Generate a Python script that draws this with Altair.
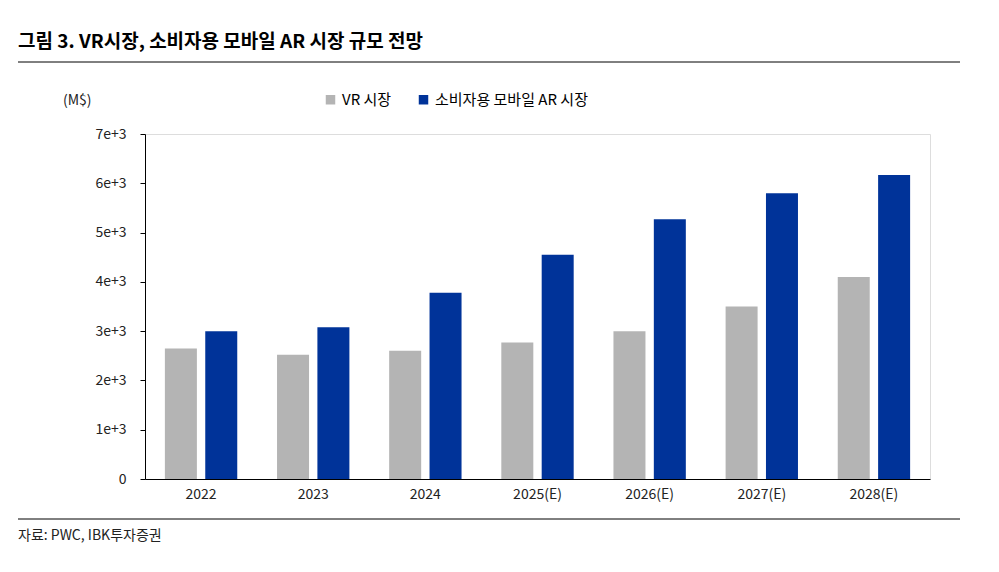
import altair as alt
import pandas as pd

years = ['2022', '2023', '2024', '2025(E)', '2026(E)', '2027(E)', '2028(E)']
vr = [2650, 2520, 2600, 2770, 3000, 3500, 4100]
ar = [3000, 3080, 3780, 4550, 5270, 5800, 6170]
series = ['VR 시장', '소비자용 모바일 AR 시장']

rows = []
for y, a, b in zip(years, vr, ar):
    rows.append({'year': y, 'series': series[0], 'value': a})
    rows.append({'year': y, 'series': series[1], 'value': b})
df = pd.DataFrame(rows)

FONT = 'Noto Sans CJK KR'

bars = alt.Chart(df).mark_bar(size=32).encode(
    x=alt.X('year:N', sort=years, title=None,
            scale=alt.Scale(paddingInner=0.28, paddingOuter=0.14),
            axis=alt.Axis(labelAngle=0, domainColor='black', ticks=False,
                          labelFontSize=14, labelColor='#222', labelPadding=8)),
    xOffset=alt.XOffset('series:N', sort=series),
    y=alt.Y('value:Q', title=None,
            scale=alt.Scale(domain=[0, 7000]),
            axis=alt.Axis(values=list(range(0, 7001, 1000)), format=',', grid=False,
                          domainColor='black', tickColor='black', tickSize=5,
                          labelFontSize=14, labelColor='#222', labelPadding=14)),
    color=alt.Color('series:N', sort=series,
                    scale=alt.Scale(domain=series, range=['#b4b4b4', '#003399']),
                    legend=alt.Legend(title=None, orient='none', direction='horizontal',
                                      legendX=178, legendY=-42, symbolType='square',
                                      symbolSize=90, labelFontSize=15, columnPadding=24,
                                      labelFont=FONT, symbolStrokeWidth=0)),
)

title = alt.Chart(pd.DataFrame({'t': ['그림 3. VR시장, 소비자용 모바일 AR 시장 규모 전망']})).mark_text(
    align='left', baseline='middle', fontSize=19, fontWeight='bold', font=FONT, color='black'
).encode(text='t:N', x=alt.value(-127), y=alt.value(-92))

unit = alt.Chart(pd.DataFrame({'t': ['(M$)']})).mark_text(
    align='left', baseline='middle', fontSize=14, font=FONT, color='#222'
).encode(text='t:N', x=alt.value(-82), y=alt.value(-33))

source = alt.Chart(pd.DataFrame({'t': ['자료: PWC, IBK투자증권']})).mark_text(
    align='left', baseline='middle', fontSize=14, font=FONT, color='#222'
).encode(text='t:N', x=alt.value(-127), y=alt.value(402))

rule_top = alt.Chart(pd.DataFrame({'a': [0]})).mark_rule(color='black', strokeWidth=1).encode(
    x=alt.value(-127), x2=alt.value(815), y=alt.value(-72))
rule_bot = alt.Chart(pd.DataFrame({'a': [0]})).mark_rule(color='black', strokeWidth=1).encode(
    x=alt.value(-127), x2=alt.value(815), y=alt.value(385))

chart = (bars + title + unit + source + rule_top + rule_bot).properties(
    width=785, height=345, autosize='none',
    padding={'left': 137, 'top': 126, 'right': 46, 'bottom': 80},
    background='white'
).configure_view(stroke=None).configure(font=FONT)

chart.save("out.html", embed_options={"renderer": "svg", "actions": False})
